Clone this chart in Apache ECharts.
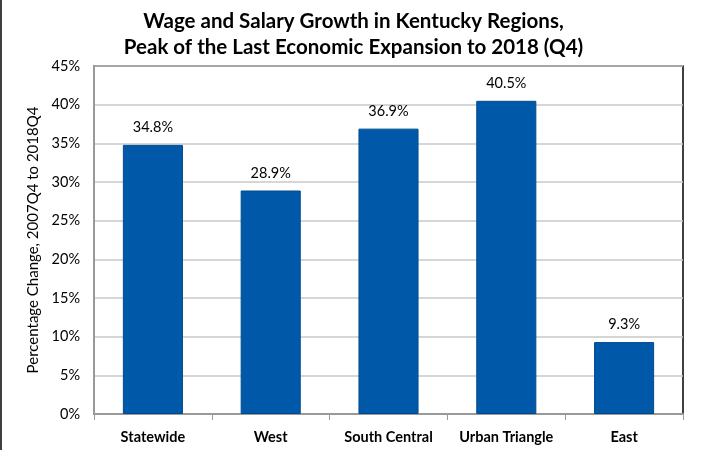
<!DOCTYPE html>
<html>
<head>
<meta charset="utf-8">
<script src="https://cdn.jsdelivr.net/npm/echarts@6/dist/echarts.min.js"></script>
<style>
    html, body { margin: 0; padding: 0; background: #fff; }
    #chart { width: 707px; height: 450px; }
</style>
</head>
<body>
<div id="chart"></div>
<script>
const regions = ['Statewide', 'West', 'South Central', 'Urban Triangle', 'East'];
const growth = [34.8, 28.9, 36.9, 40.5, 9.3];
const yTicks = [0, 5, 10, 15, 20, 25, 30, 35, 40, 45];

/*chart*/
(function () {
    const el = document.getElementById('chart');
    const chart = echarts.init(el);
    const font = 'Lato, "Open Sans", sans-serif';

    const option = {
        animation: false,
        title: {
            text: 'Wage and Salary Growth in Kentucky Regions,\nPeak of the Last Economic Expansion to 2018 (Q4)',
            left: 'center',
            top: 3,
            textStyle: {
                fontFamily: font,
                fontSize: 20.5,
                fontWeight: 'bold',
                color: '#000',
                lineHeight: 26
            }
        },
        grid: {
            left: 94,
            right: 24,
            top: 66,
            bottom: 36,
            show: true,
            borderColor: '#000',
            borderWidth: 1.5,
            backgroundColor: 'transparent'
        },
        xAxis: {
            type: 'category',
            data: regions,
            axisLine: { lineStyle: { color: '#999', width: 2 } },
            axisTick: { show: true, length: 6, lineStyle: { color: '#999' } },
            axisLabel: {
                interval: 0,
                hideOverlap: false,
                fontFamily: font,
                fontSize: 14.5,
                fontWeight: 'bold',
                color: '#000',
                margin: 16
            }
        },
        yAxis: {
            type: 'value',
            min: yTicks[0],
            max: yTicks[yTicks.length - 1],
            interval: 5,
            name: 'Percentage Change, 2007Q4 to 2018Q4',
            nameLocation: 'middle',
            nameGap: 48,
            nameTextStyle: { fontFamily: font, fontSize: 15, color: '#000' },
            axisLine: { show: true, lineStyle: { color: '#999', width: 2 } },
            axisTick: { show: false },
            splitLine: { lineStyle: { color: '#c8c8c8', width: 1.5 } },
            axisLabel: {
                formatter: '{value}%',
                fontFamily: font,
                fontSize: 14.5,
                color: '#000',
                margin: 14
            }
        },
        series: [{
            type: 'bar',
            data: growth,
            barWidth: '51%',
            itemStyle: { color: '#0059A8', borderColor: '#004B8F', borderWidth: 1 },
            label: {
                show: true,
                position: 'top',
                distance: 10,
                formatter: function (p) { return p.value.toFixed(1) + '%'; },
                fontFamily: font,
                fontSize: 14.5,
                color: '#000'
            }
        }],
        graphic: [{
            type: 'line',
            shape: { x1: 1, y1: 0, x2: 1, y2: 450 },
            style: { stroke: '#000', lineWidth: 1.5 }
        }]
    };

    chart.setOption(option);
    window.addEventListener('resize', chart.resize.bind(chart));
})();
</script>
</body>
</html>
